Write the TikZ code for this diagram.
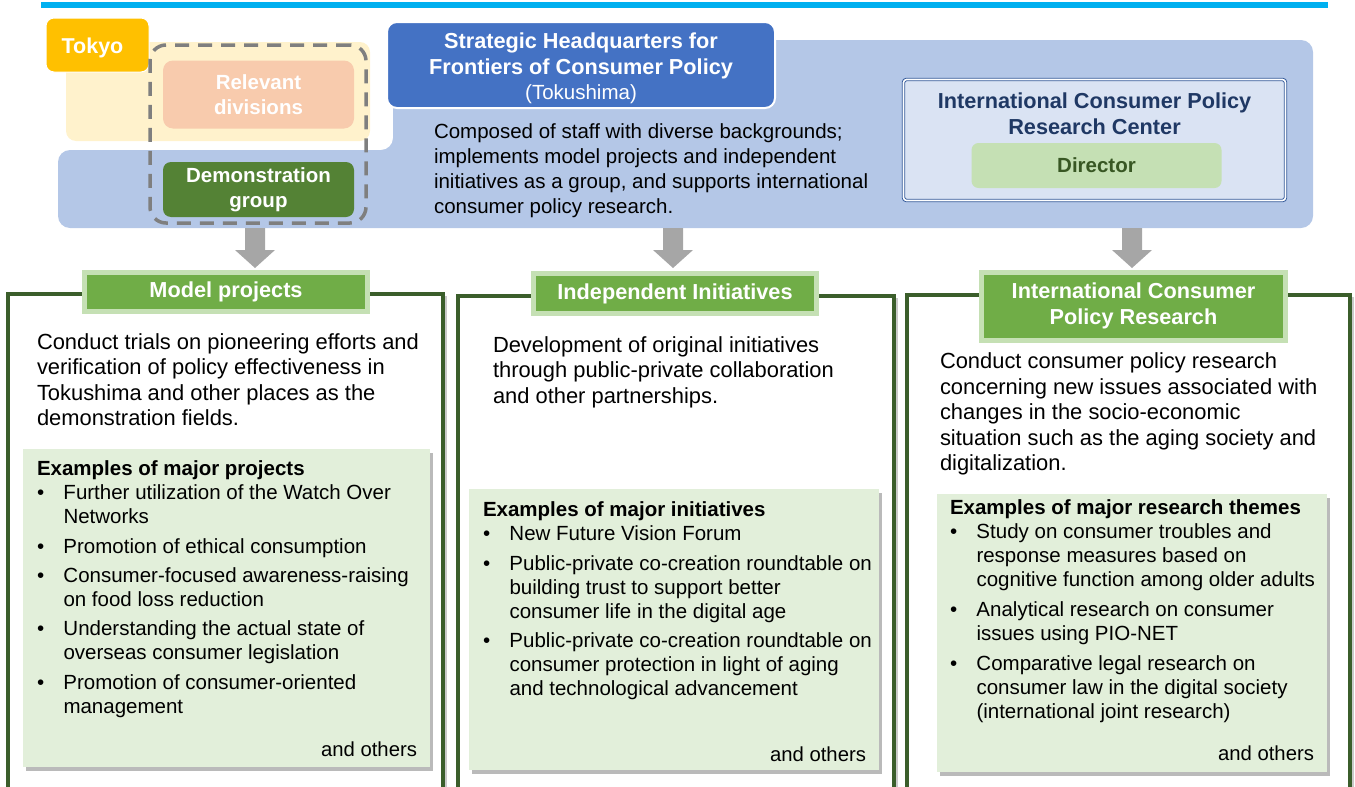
\documentclass[tikz,border=0pt]{standalone}
\usepackage{fontspec}
\setmainfont{Liberation Sans}
\usetikzlibrary{calc,shadows}
\definecolor{cCyan}{HTML}{00B0F0}
\definecolor{cBlue}{HTML}{B4C7E7}
\definecolor{cYellow}{HTML}{FFF2CC}
\definecolor{cTokyo}{HTML}{FFC000}
\definecolor{cRel}{HTML}{F8CBAD}
\definecolor{cDemo}{HTML}{548235}
\definecolor{cHQ}{HTML}{4472C4}
\definecolor{cCtrFill}{HTML}{DAE3F3}
\definecolor{cCtrLine}{HTML}{2F5597}
\definecolor{cCtrText}{HTML}{1F3864}
\definecolor{cDirFill}{HTML}{C5E0B4}
\definecolor{cDirText}{HTML}{385723}
\definecolor{cArrow}{HTML}{A6A6A6}
\definecolor{cOuter}{HTML}{3B5E2B}
\definecolor{cHead}{HTML}{70AD47}
\definecolor{cHeadLine}{HTML}{C5E0B4}
\definecolor{cEx}{HTML}{E2EFDA}
\definecolor{cDash}{HTML}{7F7F7F}
\newcommand{\bitem}{\makebox[26.5pt][l]{•}}
\newcommand{\cont}{\hspace*{26.5pt}}
\newcommand{\drawbigarrow}[2]{\fill[cArrow] ($(#1)+(-10,0)$) -- ($(#1)+(10,0)$) -- ($(#2)+(10,-18)$) -- ($(#2)+(20,-18)$) -- (#2) -- ($(#2)+(-20,-18)$) -- ($(#2)+(-10,-18)$) -- cycle;}
\tikzset{
  every node/.style={inner sep=0pt, outer sep=0pt},
  tokyobox/.style={fill=cTokyo, draw=white, line width=1pt, rounded corners=8pt, minimum width=103pt, minimum height=54pt},
  tokyotext/.style={text=white, font=\bfseries\fontsize{21.5}{24}\selectfont},
  dashbox/.style={draw=cDash, line width=3.5pt, dash pattern=on 14pt off 9pt, rounded corners=16pt, minimum width=216pt, minimum height=178pt},
  relbox/.style={fill=cRel, rounded corners=10pt, minimum width=191pt, minimum height=68pt, align=center, text=white, font=\bfseries\fontsize{20.5}{25}\selectfont},
  demobox/.style={fill=cDemo, rounded corners=8pt, minimum width=191pt, minimum height=55pt, align=center, text=white, font=\bfseries\fontsize{20.5}{25}\selectfont},
  hqbox/.style={fill=cHQ, draw=white, line width=2pt, rounded corners=10pt, minimum width=388pt, minimum height=86pt},
  hqtext/.style={align=center, text=white, font=\bfseries\fontsize{21.7}{25.5}\selectfont},
  ctrbox/.style={fill=cCtrFill, draw=cCtrLine, double=white, double distance=1.6pt, line width=0.9pt, rounded corners=3pt, minimum width=382pt, minimum height=121pt},
  ctrtext/.style={align=center, text=cCtrText, font=\bfseries\fontsize{21.7}{26}\selectfont},
  dirbox/.style={fill=cDirFill, rounded corners=7pt, minimum width=250pt, minimum height=45pt, text=cDirText, font=\bfseries\fontsize{20.5}{24}\selectfont},
  outerbox/.style={fill=white, draw=cOuter, line width=3.5pt, anchor=north west, drop shadow={shadow xshift=4pt, shadow yshift=-2pt, opacity=0.35, fill=black!60}},
  headbox/.style={fill=cHead, draw=cHeadLine, line width=5pt, align=center, text=white, font=\bfseries\fontsize{21.7}{26}\selectfont},
  bodytext/.style={anchor=base west, align=left, font=\fontsize{21.9}{25.4}\selectfont},
  hqdesctext/.style={anchor=base west, align=left, font=\fontsize{20.5}{24.7}\selectfont},
  exbox/.style={fill=cEx, anchor=north west, drop shadow={shadow xshift=3pt, shadow yshift=-4pt, opacity=0.45, fill=black!60}},
  extext/.style={anchor=base west, align=left, font=\fontsize{20.5}{24}\selectfont},
  others/.style={anchor=base east, font=\fontsize{20.3}{24}\selectfont}
}
\begin{document}
\begin{tikzpicture}[x=1pt,y=-1pt]
\useasboundingbox (0,0) rectangle (1355,787);
\clip (0,0) rectangle (1355,787);
% top rule
\fill[cCyan] (41,2) rectangle (1328,8);
% blue region
\fill[cBlue, rounded corners=12pt] (58,150) -- (393,150) -- (393,40) -- (1313,40) -- (1313,228) -- (58,228) -- cycle;
% Tokyo region
\fill[cYellow, rounded corners=10pt] (66,42) rectangle (370,141);
\node[tokyobox] (tokyo) at (97.5,45) {};
\node[tokyotext] (tokyot) at (92.5,47.5) {Tokyo};
\node[relbox] (rel) at (258.5,94.5) {Relevant\\divisions};
\node[demobox] (demo) at (258.5,189.5) {Demonstration\\group};
\node[dashbox] (grp) at (258,134) {};
% headquarters
\node[hqbox] (hq) at (581,65) {};
\node[hqtext] (hqt) at (581,68.5) {Strategic Headquarters for\\Frontiers of Consumer Policy\\{\mdseries\fontsize{20.5}{20}\selectfont (Tokushima)}};
\node[hqdesctext] (hqdesc) at (434,213) {Composed of staff with diverse backgrounds;\\implements model projects and independent\\initiatives as a group, and supports international\\consumer policy research.};
% research center
\node[ctrbox] (ctr) at (1094.5,140) {};
\node[ctrtext] (ctrtitle) at (1094.5,114) {International Consumer Policy\\Research Center};
\node[dirbox] (dir) at (1096.5,165.5) {Director};
% arrows
\coordinate (a1s) at (255,228); \coordinate (a1e) at (255,268);
\coordinate (a2s) at (673,228); \coordinate (a2e) at (673,268);
\coordinate (a3s) at (1132,228); \coordinate (a3e) at (1132,268);
\drawbigarrow{a1s}{a1e}
\drawbigarrow{a2s}{a2e}
\drawbigarrow{a3s}{a3e}
% column boxes
\node[outerbox, minimum width=435pt, minimum height=496pt] (colL) at (8,294) {};
\node[outerbox, minimum width=436pt, minimum height=494pt] (colM) at (458,296) {};
\node[outerbox, minimum width=443pt, minimum height=495pt] (colR) at (907,295) {};
% headers
\node[headbox, minimum width=283pt, minimum height=39pt] (hL) at (226,292) {Model projects};
\node[headbox, minimum width=283pt, minimum height=40pt] (hM) at (675,293.5) {Independent Initiatives};
\node[headbox, minimum width=304pt, minimum height=68pt] (hR) at (1133.5,306) {International Consumer\\Policy Research};
% body texts
\node[bodytext] (tL) at (37,425.5) {Conduct trials on pioneering efforts and\\verification of policy effectiveness in\\Tokushima and other places as the\\demonstration fields.};
\node[bodytext] (tM) at (493,403.3) {Development of original initiatives\\through public-private collaboration\\and other partnerships.};
\node[bodytext] (tR) at (940,470.5) {Conduct consumer policy research\\concerning new issues associated with\\changes in the socio-economic\\situation such as the aging society and\\digitalization.};
% example boxes
\node[exbox, minimum width=407pt, minimum height=318pt] (eL) at (23,449) {};
\node[exbox, minimum width=410pt, minimum height=281pt] (eM) at (469,489) {};
\node[exbox, minimum width=390pt, minimum height=278pt] (eR) at (937,494) {};
\node[extext] (xL) at (37,713) {\textbf{Examples of major projects}\\
\bitem Further utilization of the Watch Over\\
\cont Networks\\[6pt]
\bitem Promotion of ethical consumption\\[5pt]
\bitem Consumer-focused awareness-raising\\
\cont on food loss reduction\\[5pt]
\bitem Understanding the actual state of\\
\cont overseas consumer legislation\\[6pt]
\bitem Promotion of consumer-oriented\\
\cont management};
\node[others] (oL) at (417,756) {and others};
\node[extext] (xM) at (483,695) {\textbf{Examples of major initiatives}\\
\bitem New Future Vision Forum\\[6pt]
\bitem Public-private co-creation roundtable on\\
\cont building trust to support better\\
\cont consumer life in the digital age\\[5pt]
\bitem Public-private co-creation roundtable on\\
\cont consumer protection in light of aging\\
\cont and technological advancement};
\node[others] (oM) at (866,761) {and others};
\node[extext] (xR) at (950,718) {\textbf{Examples of major research themes}\\
\bitem Study on consumer troubles and\\
\cont response measures based on\\
\cont cognitive function among older adults\\[6pt]
\bitem Analytical research on consumer\\
\cont issues using PIO-NET\\[6pt]
\bitem Comparative legal research on\\
\cont consumer law in the digital society\\
\cont (international joint research)};
\node[others] (oR) at (1314,760) {and others};
\end{tikzpicture}
\end{document}
